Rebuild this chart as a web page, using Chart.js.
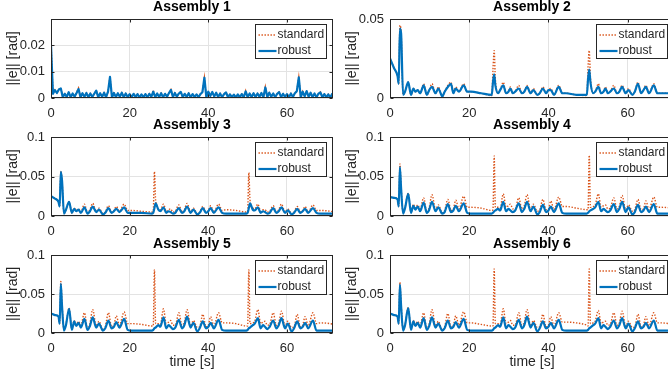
<!DOCTYPE html>
<html>
<head>
<meta charset="utf-8">
<script src="https://cdn.jsdelivr.net/npm/chart.js@4"></script>
<style>
  html, body { margin: 0; padding: 0; background: #fff; }
  #fig { position: relative; width: 668px; height: 379px; overflow: hidden; }
  #fig canvas { position: absolute; }
</style>
</head>
<body>
<div id="fig"></div>
<script>
/* ---------- DATA ---------- */

// assembly 1 is logged at a fixed sample step
const sampleStep1 = 0.5; // s
const robust1 = [
  0.0200, 0.0016, 0.0030, 0.0019, 0.0032, 0.0036, 0.0003, 0.0016, 0.0004, 0.0022,
  0.0003, 0.0017, 0.0005, 0.0019, 0.0034, 0.0003, 0.0018, 0.0005, 0.0019, 0.0003,
  0.0017, 0.0004, 0.0016, 0.0028, 0.0003, 0.0018, 0.0005, 0.0020, 0.0003, 0.0024,
  0.0080, 0.0002, 0.0019, 0.0004, 0.0018, 0.0005, 0.0020, 0.0003, 0.0017, 0.0004,
  0.0015, 0.0003, 0.0016, 0.0004, 0.0015, 0.0002, 0.0014, 0.0003, 0.0015, 0.0003,
  0.0016, 0.0004, 0.0024, 0.0003, 0.0017, 0.0004, 0.0018, 0.0003, 0.0016, 0.0005,
  0.0019, 0.0031, 0.0004, 0.0019, 0.0005, 0.0017, 0.0023, 0.0003, 0.0016, 0.0004,
  0.0018, 0.0003, 0.0015, 0.0004, 0.0014, 0.0003, 0.0015, 0.0022, 0.0077, 0.0002,
  0.0024, 0.0008, 0.0023, 0.0006, 0.0020, 0.0004, 0.0017, 0.0003, 0.0015, 0.0021,
  0.0003, 0.0014, 0.0003, 0.0013, 0.0002, 0.0014, 0.0003, 0.0015, 0.0003, 0.0025,
  0.0003, 0.0017, 0.0004, 0.0018, 0.0004, 0.0017, 0.0005, 0.0019, 0.0003, 0.0040,
  0.0004, 0.0020, 0.0005, 0.0017, 0.0003, 0.0016, 0.0022, 0.0003, 0.0016, 0.0004,
  0.0015, 0.0003, 0.0017, 0.0004, 0.0018, 0.0026, 0.0078, 0.0002, 0.0024, 0.0006,
  0.0026, 0.0005, 0.0020, 0.0004, 0.0017, 0.0003, 0.0016, 0.0021, 0.0003, 0.0015,
  0.0003, 0.0014, 0.0002, 0.0016, 0.0004
];
const standard1 = [
  0.0210, 0.0017, 0.0031, 0.0019, 0.0033, 0.0038, 0.0004, 0.0016, 0.0005, 0.0022,
  0.0004, 0.0017, 0.0005, 0.0020, 0.0038, 0.0004, 0.0018, 0.0006, 0.0019, 0.0004,
  0.0017, 0.0005, 0.0016, 0.0029, 0.0004, 0.0018, 0.0006, 0.0020, 0.0004, 0.0024,
  0.0081, 0.0003, 0.0019, 0.0005, 0.0018, 0.0006, 0.0020, 0.0004, 0.0017, 0.0005,
  0.0015, 0.0004, 0.0016, 0.0005, 0.0015, 0.0003, 0.0014, 0.0004, 0.0015, 0.0004,
  0.0016, 0.0005, 0.0030, 0.0004, 0.0017, 0.0005, 0.0018, 0.0004, 0.0016, 0.0006,
  0.0019, 0.0032, 0.0005, 0.0019, 0.0006, 0.0017, 0.0024, 0.0004, 0.0016, 0.0005,
  0.0018, 0.0004, 0.0015, 0.0005, 0.0014, 0.0004, 0.0015, 0.0023, 0.0078, 0.0003,
  0.0025, 0.0009, 0.0023, 0.0007, 0.0020, 0.0005, 0.0017, 0.0004, 0.0015, 0.0022,
  0.0004, 0.0014, 0.0004, 0.0013, 0.0003, 0.0014, 0.0004, 0.0015, 0.0004, 0.0028,
  0.0004, 0.0017, 0.0005, 0.0018, 0.0005, 0.0017, 0.0006, 0.0019, 0.0004, 0.0043,
  0.0005, 0.0020, 0.0006, 0.0017, 0.0004, 0.0016, 0.0023, 0.0004, 0.0016, 0.0005,
  0.0015, 0.0004, 0.0017, 0.0005, 0.0018, 0.0027, 0.0079, 0.0003, 0.0025, 0.0007,
  0.0027, 0.0006, 0.0020, 0.0005, 0.0017, 0.0004, 0.0016, 0.0023, 0.0004, 0.0015,
  0.0004, 0.0014, 0.0003, 0.0016, 0.0005
];

// shared time base for assemblies 2-6 [s]
const time = [
  0, 1.0, 1.9, 2.2, 2.5, 2.8, 3.3, 3.8, 4.6, 5.3,
  5.9, 6.4, 7.0, 7.6, 8.5, 9.3, 9.9, 10.6, 11.5, 12.2,
  13.2, 13.8, 14.6, 15.4, 16.0, 16.6, 17.4, 18.6, 19.5, 20.5,
  23, 25.7, 26.0, 26.3, 26.6, 27.3, 27.8, 28.6, 29.3, 29.9,
  30.4, 31.0, 31.6, 32.5, 33.3, 33.9, 34.6, 35.5, 36.2, 37.2,
  37.8, 38.6, 39.4, 40.0, 40.6, 41.4, 42.6, 43.5, 44.5, 47,
  49.7, 50.0, 50.3, 50.6, 51.3, 51.8, 52.6, 53.3, 53.9, 54.4,
  55.0, 55.6, 56.5, 57.3, 57.9, 58.6, 59.5, 60.2, 61.2, 61.8,
  62.6, 63.4, 64.0, 64.6, 65.4, 66.6, 67.5, 68.5, 71, 72
];

const standard2 = [
  0.025, 0.019, 0.014, 0.009, 0.046, 0.042, 0.002, 0.004, 0.010, 0.002,
  0.006, 0.004, 0.005, 0.003, 0.009, 0.002, 0.005, 0.009, 0.003, 0.007,
  0.001, 0.004, 0.008, 0.010, 0.003, 0.007, 0.004, 0.009, 0.004, 0.004,
  0.003, 0.0015, 0.018, 0.030, 0.012, 0.003, 0.005, 0.010, 0.003, 0.004,
  0.007, 0.003, 0.004, 0.008, 0.003, 0.004, 0.008, 0.003, 0.006, 0.002,
  0.003, 0.007, 0.003, 0.005, 0.006, 0.002, 0.008, 0.003, 0.003, 0.002,
  0.0015, 0.020, 0.030, 0.013, 0.003, 0.004, 0.009, 0.003, 0.004, 0.007,
  0.003, 0.004, 0.008, 0.003, 0.004, 0.008, 0.003, 0.006, 0.002, 0.004,
  0.010, 0.003, 0.005, 0.008, 0.003, 0.009, 0.003, 0.003, 0.003, 0.003
];
const robust2 = [
  0.025, 0.019, 0.014, 0.009, 0.044, 0.041, 0.002, 0.004, 0.010, 0.002,
  0.006, 0.004, 0.005, 0.003, 0.008, 0.002, 0.005, 0.007, 0.003, 0.006,
  0.001, 0.004, 0.007, 0.009, 0.003, 0.006, 0.004, 0.008, 0.004, 0.004,
  0.003, 0.002, 0.010, 0.015, 0.008, 0.003, 0.005, 0.008, 0.003, 0.004,
  0.006, 0.003, 0.004, 0.006, 0.003, 0.004, 0.007, 0.003, 0.005, 0.002,
  0.003, 0.006, 0.003, 0.005, 0.005, 0.002, 0.007, 0.003, 0.003, 0.002,
  0.002, 0.012, 0.018, 0.010, 0.003, 0.004, 0.007, 0.003, 0.004, 0.006,
  0.003, 0.004, 0.006, 0.003, 0.004, 0.007, 0.003, 0.005, 0.002, 0.004,
  0.009, 0.003, 0.005, 0.007, 0.003, 0.008, 0.003, 0.003, 0.003, 0.003
];

const standard3 = [
  0.025, 0.022, 0.018, 0.012, 0.057, 0.046, 0.003, 0.008, 0.018, 0.004,
  0.010, 0.007, 0.009, 0.005, 0.015, 0.004, 0.008, 0.016, 0.006, 0.010,
  0.003, 0.005, 0.013, 0.005, 0.007, 0.012, 0.006, 0.015, 0.007, 0.007,
  0.006, 0.005, 0.006, 0.056, 0.020, 0.009, 0.008, 0.015, 0.006, 0.008,
  0.009, 0.005, 0.006, 0.014, 0.005, 0.008, 0.016, 0.005, 0.010, 0.003,
  0.005, 0.012, 0.005, 0.007, 0.013, 0.005, 0.015, 0.007, 0.008, 0.007,
  0.005, 0.006, 0.055, 0.020, 0.010, 0.009, 0.015, 0.006, 0.008, 0.008,
  0.005, 0.006, 0.013, 0.005, 0.008, 0.015, 0.005, 0.009, 0.003, 0.005,
  0.012, 0.005, 0.007, 0.012, 0.005, 0.014, 0.007, 0.007, 0.006, 0.005
];
const robust3 = [
  0.025, 0.022, 0.018, 0.012, 0.056, 0.045, 0.003, 0.008, 0.018, 0.004,
  0.009, 0.006, 0.008, 0.004, 0.011, 0.003, 0.006, 0.012, 0.005, 0.008,
  0.002, 0.004, 0.010, 0.004, 0.006, 0.009, 0.005, 0.011, 0.004, 0.004,
  0.004, 0.003, 0.004, 0.010, 0.016, 0.008, 0.006, 0.011, 0.004, 0.006,
  0.005, 0.003, 0.004, 0.010, 0.004, 0.006, 0.012, 0.004, 0.008, 0.002,
  0.004, 0.010, 0.004, 0.006, 0.010, 0.004, 0.011, 0.004, 0.003, 0.003,
  0.003, 0.004, 0.010, 0.016, 0.008, 0.007, 0.011, 0.004, 0.006, 0.005,
  0.003, 0.004, 0.010, 0.004, 0.006, 0.011, 0.004, 0.007, 0.002, 0.004,
  0.009, 0.004, 0.006, 0.009, 0.004, 0.010, 0.004, 0.003, 0.003, 0.003
];

const standard4 = [
  0.024, 0.023, 0.021, 0.012, 0.066, 0.038, 0.004, 0.011, 0.029, 0.005,
  0.015, 0.010, 0.014, 0.009, 0.023, 0.005, 0.011, 0.027, 0.008, 0.014,
  0.004, 0.007, 0.021, 0.007, 0.009, 0.020, 0.009, 0.025, 0.011, 0.011,
  0.010, 0.007, 0.008, 0.076, 0.011, 0.011, 0.010, 0.028, 0.011, 0.013,
  0.015, 0.009, 0.009, 0.023, 0.009, 0.013, 0.027, 0.008, 0.015, 0.006,
  0.008, 0.021, 0.008, 0.009, 0.019, 0.008, 0.024, 0.012, 0.012, 0.010,
  0.008, 0.008, 0.077, 0.011, 0.012, 0.014, 0.028, 0.011, 0.013, 0.014,
  0.009, 0.010, 0.023, 0.009, 0.012, 0.026, 0.008, 0.014, 0.006, 0.008,
  0.021, 0.008, 0.009, 0.019, 0.008, 0.024, 0.011, 0.011, 0.010, 0.009
];
const robust4 = [
  0.024, 0.023, 0.021, 0.012, 0.062, 0.035, 0.003, 0.010, 0.028, 0.004,
  0.013, 0.008, 0.012, 0.006, 0.017, 0.004, 0.008, 0.018, 0.006, 0.011,
  0.003, 0.005, 0.015, 0.005, 0.007, 0.013, 0.006, 0.016, 0.004, 0.003,
  0.003, 0.003, 0.004, 0.006, 0.007, 0.009, 0.007, 0.018, 0.006, 0.009,
  0.007, 0.005, 0.007, 0.016, 0.005, 0.009, 0.018, 0.006, 0.012, 0.002,
  0.005, 0.014, 0.005, 0.007, 0.012, 0.005, 0.016, 0.004, 0.003, 0.003,
  0.003, 0.004, 0.006, 0.007, 0.009, 0.011, 0.018, 0.006, 0.009, 0.007,
  0.005, 0.007, 0.015, 0.005, 0.009, 0.018, 0.005, 0.011, 0.002, 0.005,
  0.014, 0.005, 0.007, 0.012, 0.005, 0.015, 0.003, 0.003, 0.003, 0.003
];

const standard5 = [
  0.025, 0.023, 0.021, 0.012, 0.066, 0.038, 0.004, 0.011, 0.032, 0.005,
  0.016, 0.011, 0.015, 0.010, 0.026, 0.005, 0.012, 0.030, 0.009, 0.015,
  0.004, 0.008, 0.026, 0.008, 0.010, 0.022, 0.010, 0.027, 0.012, 0.012,
  0.011, 0.009, 0.009, 0.081, 0.012, 0.012, 0.011, 0.031, 0.012, 0.014,
  0.016, 0.010, 0.010, 0.026, 0.010, 0.014, 0.030, 0.009, 0.016, 0.007,
  0.008, 0.024, 0.008, 0.010, 0.021, 0.009, 0.026, 0.013, 0.013, 0.012,
  0.009, 0.009, 0.081, 0.012, 0.013, 0.015, 0.030, 0.012, 0.014, 0.015,
  0.010, 0.011, 0.026, 0.010, 0.013, 0.028, 0.009, 0.015, 0.007, 0.008,
  0.024, 0.008, 0.010, 0.021, 0.009, 0.026, 0.012, 0.013, 0.012, 0.011
];
const robust5 = [
  0.025, 0.023, 0.021, 0.012, 0.063, 0.035, 0.003, 0.010, 0.031, 0.004,
  0.015, 0.009, 0.013, 0.007, 0.018, 0.004, 0.009, 0.020, 0.007, 0.012,
  0.003, 0.006, 0.016, 0.006, 0.008, 0.014, 0.007, 0.018, 0.004, 0.003,
  0.003, 0.003, 0.004, 0.006, 0.007, 0.010, 0.008, 0.020, 0.006, 0.010,
  0.008, 0.005, 0.007, 0.017, 0.006, 0.010, 0.021, 0.007, 0.013, 0.002,
  0.006, 0.015, 0.006, 0.008, 0.013, 0.006, 0.017, 0.004, 0.003, 0.003,
  0.003, 0.004, 0.006, 0.007, 0.010, 0.012, 0.019, 0.006, 0.010, 0.008,
  0.005, 0.008, 0.016, 0.006, 0.010, 0.019, 0.006, 0.012, 0.002, 0.006,
  0.015, 0.006, 0.008, 0.013, 0.006, 0.016, 0.003, 0.003, 0.003, 0.003
];

const standard6 = [
  0.025, 0.023, 0.021, 0.012, 0.065, 0.038, 0.004, 0.011, 0.033, 0.005,
  0.016, 0.011, 0.015, 0.010, 0.026, 0.005, 0.012, 0.030, 0.009, 0.015,
  0.004, 0.008, 0.025, 0.008, 0.010, 0.022, 0.010, 0.027, 0.013, 0.013,
  0.011, 0.009, 0.009, 0.082, 0.012, 0.012, 0.011, 0.031, 0.012, 0.014,
  0.016, 0.010, 0.010, 0.026, 0.010, 0.014, 0.030, 0.009, 0.016, 0.007,
  0.008, 0.024, 0.008, 0.010, 0.021, 0.009, 0.026, 0.014, 0.014, 0.013,
  0.010, 0.009, 0.082, 0.012, 0.013, 0.015, 0.029, 0.012, 0.014, 0.015,
  0.010, 0.011, 0.026, 0.010, 0.013, 0.028, 0.009, 0.015, 0.007, 0.008,
  0.024, 0.008, 0.010, 0.021, 0.009, 0.026, 0.013, 0.013, 0.012, 0.012
];
const robust6 = [
  0.025, 0.023, 0.021, 0.012, 0.062, 0.035, 0.003, 0.010, 0.032, 0.004,
  0.015, 0.009, 0.013, 0.007, 0.019, 0.004, 0.009, 0.020, 0.007, 0.012,
  0.003, 0.006, 0.016, 0.006, 0.008, 0.014, 0.007, 0.018, 0.004, 0.003,
  0.003, 0.003, 0.004, 0.006, 0.007, 0.010, 0.008, 0.020, 0.006, 0.010,
  0.008, 0.005, 0.007, 0.017, 0.006, 0.010, 0.021, 0.007, 0.013, 0.002,
  0.006, 0.015, 0.006, 0.008, 0.013, 0.006, 0.017, 0.004, 0.003, 0.003,
  0.003, 0.004, 0.006, 0.007, 0.010, 0.012, 0.019, 0.006, 0.010, 0.008,
  0.005, 0.008, 0.016, 0.006, 0.010, 0.019, 0.006, 0.012, 0.002, 0.006,
  0.015, 0.006, 0.008, 0.013, 0.006, 0.016, 0.003, 0.003, 0.003, 0.003
];

const xTicks = [0, 20, 40, 60];
const yTicksSmall = [0, 0.01, 0.02];
const yTicksMid = [0, 0.05];
const yTicksLarge = [0, 0.05, 0.1];

const time1 = robust1.map((_, i) => i * sampleStep1);

const panels = [
  { title: 'Assembly 1', t: time1, standard: standard1, robust: robust1, yMax: 0.03, yTicks: yTicksSmall, smooth: false },
  { title: 'Assembly 2', t: time, standard: standard2, robust: robust2, yMax: 0.05, yTicks: yTicksMid, smooth: true },
  { title: 'Assembly 3', t: time, standard: standard3, robust: robust3, yMax: 0.1, yTicks: yTicksLarge, smooth: true },
  { title: 'Assembly 4', t: time, standard: standard4, robust: robust4, yMax: 0.1, yTicks: yTicksLarge, smooth: true },
  { title: 'Assembly 5', t: time, standard: standard5, robust: robust5, yMax: 0.1, yTicks: yTicksLarge, smooth: true },
  { title: 'Assembly 6', t: time, standard: standard6, robust: robust6, yMax: 0.1, yTicks: yTicksLarge, smooth: true }
];

/* ---------- LAYOUT ---------- */

const columns = [
  { left: 0, width: 340, padRight: 7 },
  { left: 339, width: 345, padRight: 10 }
];
const rows = [
  { top: -1, height: 124, titleGap: 3.2, xHeight: 25 },
  { top: 117, height: 124, titleGap: 3.2, xHeight: 25 },
  { top: 236, height: 142, titleGap: 2.2, xHeight: 45, xTitle: 'time [s]' }
];

const INK = '#262626';
const GRID = '#e3e3e3';
Chart.defaults.font.family = "'Liberation Sans', Arial, Helvetica, sans-serif";
Chart.defaults.color = INK;

/* ---------- AXES BOX, INWARD TICKS, LEGEND ---------- */

const axesFrame = {
  id: 'axesFrame',
  afterDatasetsDraw(chart) {
    const { ctx, chartArea: a, scales: { x, y } } = chart;
    const L = Math.round(a.left) + 0.5, R = Math.round(a.right) - 0.5;
    const T = Math.round(a.top) + 0.5, B = Math.round(a.bottom) - 0.5;
    ctx.save();
    ctx.strokeStyle = INK;
    ctx.lineWidth = 1;
    ctx.setLineDash([]);
    ctx.beginPath();
    x.ticks.forEach(tk => {
      const px = Math.round(x.getPixelForValue(tk.value)) + 0.5;
      ctx.moveTo(px, B); ctx.lineTo(px, B - 3);
      ctx.moveTo(px, T); ctx.lineTo(px, T + 3);
    });
    y.ticks.forEach(tk => {
      const py = Math.round(y.getPixelForValue(tk.value)) + 0.5;
      ctx.moveTo(L, py); ctx.lineTo(L + 3, py);
      ctx.moveTo(R, py); ctx.lineTo(R - 3, py);
    });
    ctx.stroke();
    ctx.strokeRect(L, T, R - L, B - T);

    // legend, top right inside the axes
    const bw = 71, bh = 34;
    const bx = Math.round(a.right) - 7 - bw + 0.5;
    const by = Math.round(a.top) + 5 + 0.5;
    ctx.fillStyle = '#fff';
    ctx.fillRect(bx, by, bw, bh);
    ctx.strokeRect(bx, by, bw, bh);
    ctx.font = "12px 'Liberation Sans', Arial, sans-serif";
    ctx.textBaseline = 'middle';
    ctx.textAlign = 'left';
    chart.data.datasets.forEach((ds, i) => {
      const ly = by + 10.5 + i * 16;
      ctx.beginPath();
      ctx.strokeStyle = ds.borderColor;
      ctx.lineWidth = ds.borderWidth;
      ctx.setLineDash(ds.borderDash || []);
      ctx.moveTo(bx + 3, ly);
      ctx.lineTo(bx + 21, ly);
      ctx.stroke();
      ctx.fillStyle = INK;
      ctx.fillText(ds.label, bx + 22, ly);
    });
    ctx.restore();
  }
};

/* ---------- CHARTS ---------- */

const fig = document.getElementById('fig');
const toPoints = (t, v) => t.map((tt, i) => ({ x: tt, y: v[i] }));

panels.forEach((p, i) => {
  const col = columns[i % 2];
  const row = rows[Math.floor(i / 2)];
  const canvas = document.createElement('canvas');
  canvas.width = col.width;
  canvas.height = row.height;
  canvas.style.left = col.left + 'px';
  canvas.style.top = row.top + 'px';
  canvas.style.width = col.width + 'px';
  canvas.style.height = row.height + 'px';
  fig.appendChild(canvas);

  const curve = p.smooth ? 'monotone' : 'default';

  new Chart(canvas, {
    type: 'line',
    data: {
      datasets: [
        {
          label: 'standard',
          data: toPoints(p.t, p.standard),
          borderColor: '#D95319',
          borderWidth: 1.4,
          borderDash: [1.4, 1.6],
          pointRadius: 0,
          tension: 0,
          cubicInterpolationMode: curve,
          order: 1
        },
        {
          label: 'robust',
          data: toPoints(p.t, p.robust),
          borderColor: '#0072BD',
          borderWidth: 2.2,
          borderJoinStyle: 'round',
          pointRadius: 0,
          tension: 0,
          cubicInterpolationMode: curve,
          order: 0
        }
      ]
    },
    options: {
      responsive: false,
      animation: false,
      events: [],
      layout: { padding: { left: 0, right: col.padRight, top: 0, bottom: 0 } },
      plugins: {
        legend: { display: false },
        tooltip: { enabled: false },
        title: {
          display: true,
          text: p.title,
          fullSize: false,
          color: '#000',
          font: { size: 14, weight: 'bold' },
          padding: { top: 0, bottom: row.titleGap }
        }
      },
      scales: {
        x: {
          type: 'linear',
          min: 0,
          max: 71.7,
          afterBuildTicks: s => { s.ticks = xTicks.map(v => ({ value: v })); },
          afterFit: s => { s.height = row.xHeight; },
          grid: { color: GRID, drawTicks: false },
          border: { display: false },
          ticks: { font: { size: 13 }, padding: 8, maxRotation: 0, autoSkip: false, callback: v => String(v) },
          title: {
            display: !!row.xTitle,
            text: row.xTitle || '',
            font: { size: 14 },
            padding: { top: 0, bottom: 7 }
          }
        },
        y: {
          min: 0,
          max: p.yMax,
          afterBuildTicks: s => { s.ticks = p.yTicks.map(v => ({ value: v })); },
          afterFit: s => { s.width = 51; },
          grid: { color: GRID, drawTicks: false },
          border: { display: false },
          ticks: { font: { size: 13 }, padding: 6, autoSkip: false, callback: v => String(v) },
          title: {
            display: true,
            text: '||e|| [rad]',
            font: { size: 14 },
            padding: { top: 5, bottom: 0 }
          }
        }
      }
    },
    plugins: [axesFrame]
  });
});
</script>
</body>
</html>
